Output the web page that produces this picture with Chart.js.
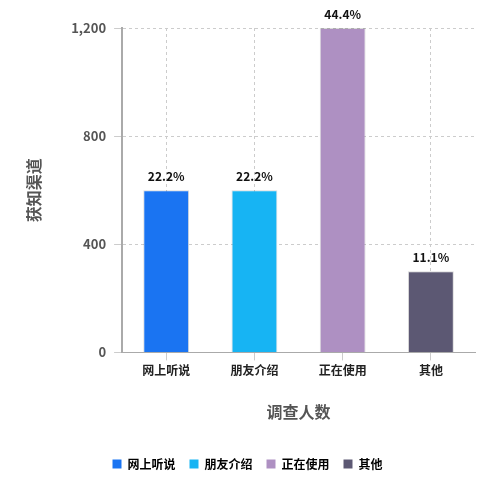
<!DOCTYPE html>
<html>
<head>
<meta charset="utf-8">
<script src="https://cdn.jsdelivr.net/npm/chart.js@4"></script>
<style>
  body { margin: 0; background: #fff; }
  #wrap { width: 500px; height: 500px; }
</style>
</head>
<body>
<div id="wrap"><canvas id="chart" width="500" height="500"></canvas></div>
<script>
const categories = ['网上听说', '朋友介绍', '正在使用', '其他'];
const counts = [600, 600, 1200, 300];
const percents = ['22.2%', '22.2%', '44.4%', '11.1%'];
const colors = ['#1a74f2', '#17b4f3', '#ae90c2', '#5c5873'];
const yTicks = [0, 400, 800, 1200];

const font = "'Noto Sans CJK SC', 'Noto Sans', sans-serif";

// percentages over the bars
const labelPlugin = {
  id: 'barLabels',
  afterDatasetsDraw(chart) {
    const ctx = chart.ctx;
    ctx.save();
    ctx.font = 'bold 12px ' + font;
    ctx.fillStyle = '#111';
    ctx.textAlign = 'center';
    ctx.textBaseline = 'bottom';
    chart.getDatasetMeta(0).data.forEach((bar, i) => {
      ctx.fillText(percents[i], bar.x, bar.y - 8);
    });
    ctx.restore();
  }
};

new Chart(document.getElementById('chart'), {
  type: 'bar',
  data: {
    labels: categories,
    datasets: [{
      data: counts,
      backgroundColor: colors,
      borderColor: 'rgba(0,0,0,0.15)',
      borderWidth: 1,
      barPercentage: 0.52,
      categoryPercentage: 1
    }]
  },
  options: {
    responsive: false,
    animation: false,
    layout: { padding: { top: 28, right: 25, left: 20, bottom: 20 } },
    plugins: {
      tooltip: { enabled: false },
      legend: {
        position: 'bottom',
        labels: {
          font: { family: font, size: 12, weight: 'bold' },
          color: '#666',
          boxWidth: 9,
          boxHeight: 9,
          padding: 14,
          generateLabels: () => categories.map((c, i) => ({
            text: c, fillStyle: colors[i], strokeStyle: colors[i], lineWidth: 0, index: i
          }))
        }
      }
    },
    scales: {
      x: {
        grid: { offset: false, color: '#ccc', borderDash: [3, 3] },
        border: { color: '#aaa', dash: [3, 3] },
        ticks: { font: { family: font, size: 12, weight: 'bold' }, color: '#222' },
        title: {
          display: true, text: '调查人数', color: '#555',
          font: { family: font, size: 16, weight: 'bold' },
          padding: { top: 22, bottom: 22 }
        }
      },
      y: {
        min: 0, max: 1200,
        afterBuildTicks: axis => { axis.ticks = yTicks.map(v => ({ value: v })); },
        grid: { color: '#ccc' },
        border: { color: '#aaa', width: 2, dash: [3, 3] },
        ticks: { font: { family: font, size: 13, weight: 'bold' }, color: '#555', padding: 8 },
        title: {
          display: true, text: '获知渠道', color: '#555',
          font: { family: font, size: 16, weight: 'bold' },
          padding: { bottom: 20 }
        }
      }
    }
  },
  plugins: [labelPlugin]
});
</script>
</body>
</html>
